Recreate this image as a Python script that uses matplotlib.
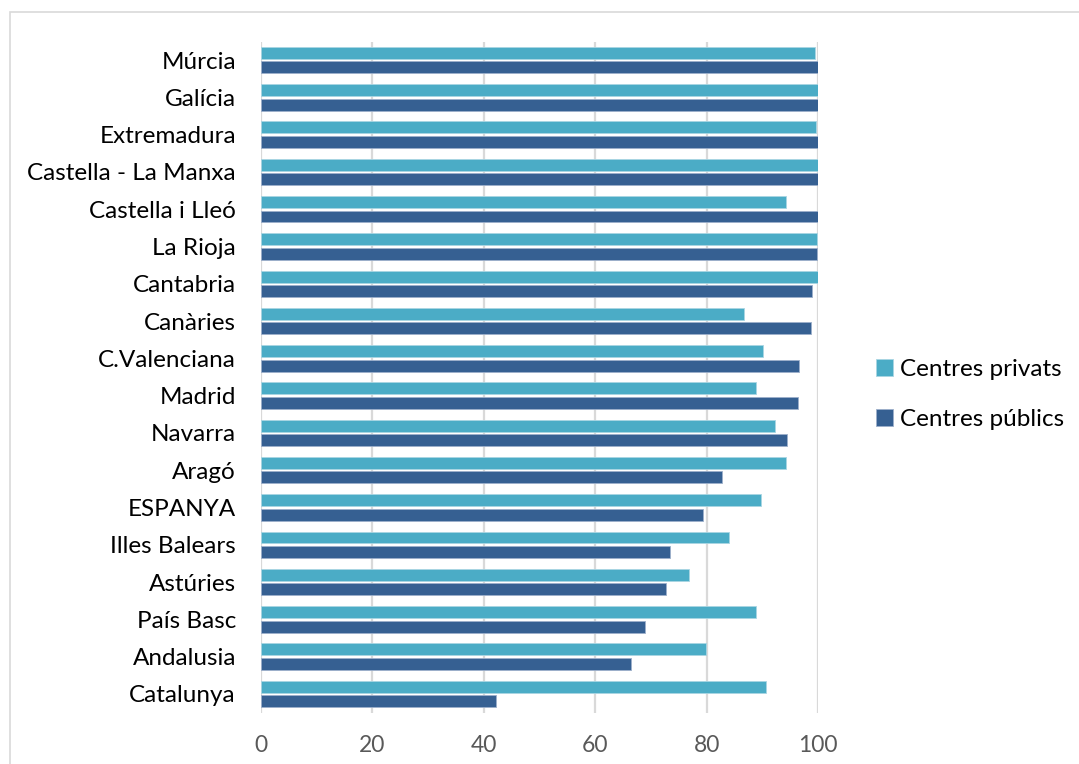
import numpy as np
import matplotlib.pyplot as plt
from matplotlib.patches import Rectangle

regions = ["Múrcia", "Galícia", "Extremadura", "Castella - La Manxa",
           "Castella i Lleó", "La Rioja", "Cantabria", "Canàries",
           "C.Valenciana", "Madrid", "Navarra", "Aragó", "ESPANYA",
           "Illes Balears", "Astúries", "País Basc", "Andalusia", "Catalunya"]

privats = [99.5, 100, 99.6, 100, 94.3, 99.8, 100, 86.8, 90.1, 88.9,
           92.2, 94.2, 89.7, 84.0, 76.9, 88.9, 79.9, 90.6]
publics = [100, 100, 100, 100, 100, 99.8, 98.9, 98.8, 96.6, 96.4,
           94.4, 82.7, 79.4, 73.4, 72.7, 68.9, 66.4, 42.2]

plt.rcParams['font.family'] = ['Lato', 'DejaVu Sans']

fig = plt.figure(figsize=(10.79, 7.64), dpi=100)
ax = fig.add_axes([261/1079, 1 - 712.5/764, (818 - 261)/1079, (712.5 - 41.5)/764])

# light frame around the whole chart
fig.patches.append(Rectangle((10/1079, -0.05), 1.2, 1 - 12/764 + 0.05,
                             transform=fig.transFigure, fill=False,
                             edgecolor='#D9D9D9', linewidth=1.2))

y = np.arange(len(regions))
h = 0.32
off = 0.195
ax.barh(y - off, privats, height=h, color='#4BACC6', edgecolor='#A9D6E3',
        linewidth=0.6, label='Centres privats', zorder=3)
ax.barh(y + off, publics, height=h, color='#366092', edgecolor='#9DB0CB',
        linewidth=0.6, label='Centres públics', zorder=3)

ax.set_xlim(0, 100)
ax.set_ylim(len(regions) - 0.5, -0.5)
ax.set_xticks(np.arange(0, 101, 20))
ax.set_yticks(y)
ax.set_yticklabels(regions, fontsize=17.5, color='black')
ax.tick_params(axis='x', labelsize=16.5, labelcolor='#595959', length=0, pad=16)
ax.tick_params(axis='y', length=0, pad=18)
ax.grid(axis='x', color='#D9D9D9', linewidth=1.6, zorder=0)
for s in ax.spines.values():
    s.set_visible(False)

ax.legend(loc='center left', bbox_to_anchor=(1.065, 0.474), frameon=False,
          fontsize=17.5, handlelength=0.7, handleheight=0.7, handletextpad=0.3,
          labelspacing=1.2)

fig.savefig('out.png', dpi=100)
